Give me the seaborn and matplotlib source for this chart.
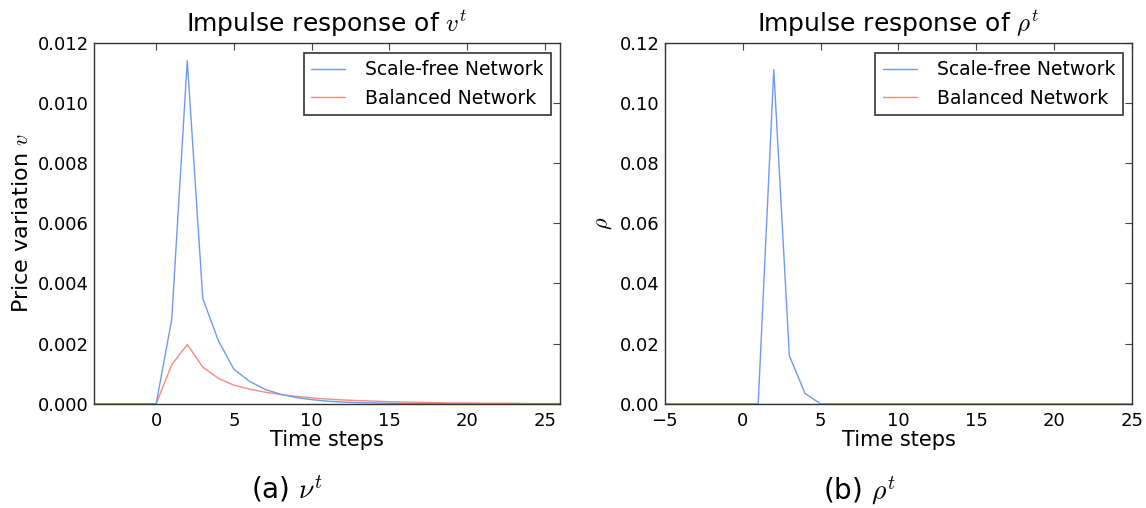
import pandas as pd
import seaborn as sns
import matplotlib
matplotlib.use("Agg")
import matplotlib.pyplot as plt

sns.set_style("white")
plt.rcParams['font.family'] = ['DejaVu Sans']
plt.rcParams['mathtext.fontset'] = 'cm'
for k in ["text.color", "axes.labelcolor", "xtick.color", "ytick.color"]:
    plt.rcParams[k] = "black"

# ---------------------------------------------------------------
# Datos
# ---------------------------------------------------------------
t_v = list(range(-4, 27))
sf_v = [0, 0, 0, 0,
        0, 0.0028, 0.0114, 0.0035, 0.0021, 0.00115, 0.00075, 0.00048,
        0.00032, 0.00021, 0.00014, 0.00009, 0.00006, 0.00004, 0.00003,
        0.00002, 0.00001, 0.00001, 0.00001, 0, 0, 0, 0, 0, 0, 0, 0]
bal_v = [0, 0, 0, 0,
         0, 0.0013, 0.00197, 0.00122, 0.00085, 0.00062, 0.00049, 0.00039,
         0.00031, 0.00025, 0.0002, 0.00016, 0.00013, 0.00011, 0.00009,
         0.00007, 0.00006, 0.00005, 0.00004, 0.00003, 0.00003, 0.00002,
         0.00002, 0.00002, 0.00001, 0.00001, 0.00001]

t_rho = list(range(-5, 26))
sf_rho = [0, 0, 0, 0, 0, 0, 0, 0.111, 0.016, 0.0035, 0] + [0] * 20
bal_rho = [0] * 31

series = ["Scale-free Network", "Balanced Network"]
colores = {"Scale-free Network": "#6f9bef", "Balanced Network": "#f88a80"}


def armar_df(t, sf, bal):
    return pd.concat([
        pd.DataFrame({"t": t, "valor": sf, "serie": series[0]}),
        pd.DataFrame({"t": t, "valor": bal, "serie": series[1]}),
    ])


df_v = armar_df(t_v, sf_v, bal_v)
df_rho = armar_df(t_rho, sf_rho, bal_rho)

fig = plt.figure(figsize=(11.46, 5.08), dpi=100)
ax1 = fig.add_axes([0.082, 0.205, 0.407, 0.711])
ax2 = fig.add_axes([0.580, 0.205, 0.408, 0.711])


def dibujar(ax, df, titulo, ylabel, xlim, ylim, yticks, fmt):
    # dibujar la serie balanceada primero para que quede debajo
    for s in [series[1], series[0]]:
        sns.lineplot(data=df[df["serie"] == s], x="t", y="valor",
                     color=colores[s], linewidth=1.0, ax=ax, label=s,
                     legend=False)
    ax.set_xlim(*xlim)
    ax.set_ylim(*ylim)
    ax.set_yticks(yticks)
    ax.set_yticklabels([fmt.format(v) for v in yticks])
    ax.set_title(titulo, fontsize=18, pad=8)
    ax.set_xlabel("Time steps", fontsize=15, labelpad=0)
    ax.set_ylabel(ylabel, fontsize=16, labelpad=4)
    ax.tick_params(direction="in", top=True, right=True, length=5,
                   width=0.8, labelsize=13, color="#444444")
    ax.tick_params(axis="x", pad=6)
    for sp in ax.spines.values():
        sp.set_color("#333333")
        sp.set_linewidth(1.0)
    h, l = ax.get_legend_handles_labels()
    orden = [l.index(series[0]), l.index(series[1])]
    leg = ax.legend([h[i] for i in orden], [l[i] for i in orden],
                    loc="upper right", fontsize=13.5, fancybox=False,
                    framealpha=1, edgecolor="#333333",
                    handlelength=1.8, handletextpad=1.1,
                    borderpad=0.4, borderaxespad=0,
                    bbox_to_anchor=(1 - 9 / 466, 1 - 10 / 361))
    leg.get_frame().set_linewidth(1.2)


dibujar(ax1, df_v, r"Impulse response of $v^t$", r"Price variation $v$",
        (-4, 26), (0, 0.012), [0, 0.002, 0.004, 0.006, 0.008, 0.010, 0.012],
        "{:.3f}")
ax1.set_xticks([0, 5, 10, 15, 20, 25])

dibujar(ax2, df_rho, r"Impulse response of $\rho^t$", r"$\rho$",
        (-5, 25), (0, 0.12), [0, 0.02, 0.04, 0.06, 0.08, 0.10, 0.12],
        "{:.2f}")
ax2.set_xticks([-5, 0, 5, 10, 15, 20, 25])
ax2.set_xticklabels(["\u22125", "0", "5", "10", "15", "20", "25"])

fig.text(0.25, 0.018, r"(a) $\nu^t$", fontsize=20, ha="center")
fig.text(0.75, 0.018, r"(b) $\rho^t$", fontsize=20, ha="center")

fig.savefig("out.png", dpi=100)
